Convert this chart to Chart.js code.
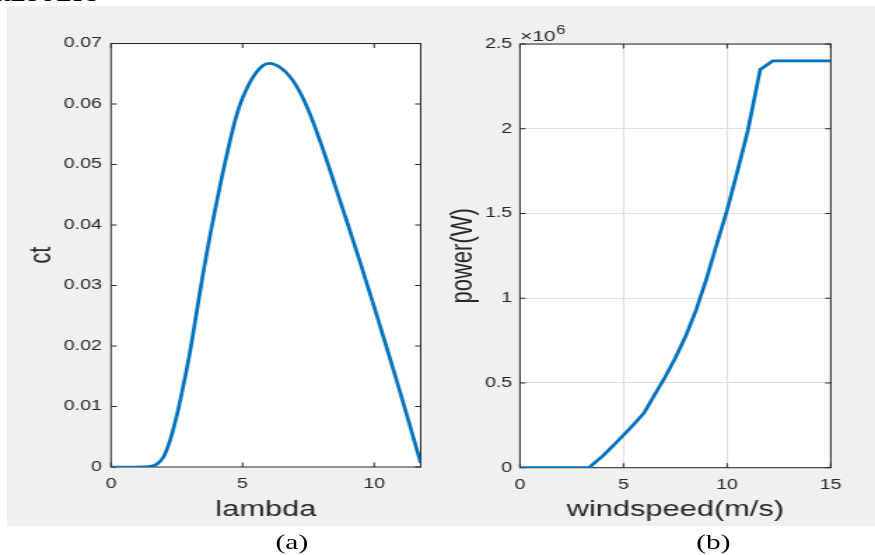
<!DOCTYPE html>
<html>
<head>
<meta charset="utf-8">
<script src="https://cdn.jsdelivr.net/npm/chart.js@4.4.1/dist/chart.umd.min.js"></script>
<style>
html,body{margin:0;padding:0;background:#fff;width:875px;height:555px;overflow:hidden;position:relative}
#head{position:absolute;left:-6px;top:-17.4px;font:bold 22px/22px "Liberation Serif","Times New Roman",serif;color:#000;white-space:nowrap;letter-spacing:1px}
#stage{position:absolute;left:0;top:0;width:625px;height:555px;transform:scaleX(1.4);transform-origin:0 0}
#bg{position:absolute;left:5px;top:6px;width:620px;height:520px;background:#f0f0f0}
.box{position:absolute;top:0;height:555px}
#boxA{left:0;width:310px}
#boxB{left:310px;width:315px}
.cap{position:absolute;top:530px;font:21px/24px "Liberation Serif","Times New Roman",serif;color:#000;transform:translateX(-50%);white-space:nowrap}
</style>
</head>
<body>
<div id="head">RESULTS</div>
<div id="stage">
  <div id="bg"></div>
  <div class="box" id="boxA"><canvas id="chartA"></canvas></div>
  <div class="box" id="boxB"><canvas id="chartB"></canvas></div>
  <div class="cap" style="left:208.5px">(a)</div>
  <div class="cap" style="left:509.5px">(b)</div>
</div>
<script>
// ---------- data (a): ct vs lambda ----------
const lambdaValues = [0, 0.5, 1.0, 1.5, 1.75, 2.0, 2.25, 2.5, 2.75, 3.0, 3.25, 3.5, 3.75, 4.0, 4.25, 4.5, 4.75, 5.0, 5.5, 6.0, 6.5, 7.0, 7.5, 8.0, 8.5, 9.0, 9.5, 10.0, 10.5, 11.0, 11.5, 11.77];
const ctValues     = [0, 0, 0, 0.0001, 0.0005, 0.0017, 0.0045, 0.0085, 0.0135, 0.019, 0.0255, 0.032, 0.038, 0.0435, 0.0487, 0.0535, 0.0578, 0.061, 0.0651, 0.0667, 0.0658, 0.0633, 0.059, 0.0532, 0.0467, 0.0401, 0.0334, 0.0265, 0.0194, 0.0122, 0.0047, 0.0007];
const lambdaTicks  = [0, 5, 10];
const ctTicks      = [0, 0.01, 0.02, 0.03, 0.04, 0.05, 0.06, 0.07];

// ---------- data (b): power vs windspeed ----------
const windValues  = [0, 3.33, 4.0, 4.5, 5.0, 5.5, 6.0, 6.5, 7.0, 7.5, 8.0, 8.5, 9.0, 9.5, 10.0, 10.5, 11.0, 11.6, 12.2, 15];
const powerValues = [0, 0, 0.07e6, 0.13e6, 0.193e6, 0.256e6, 0.325e6, 0.43e6, 0.534e6, 0.647e6, 0.777e6, 0.93e6, 1.113e6, 1.32e6, 1.52e6, 1.75e6, 1.99e6, 2.35e6, 2.4e6, 2.4e6];
const windTicks   = [0, 5, 10, 15];
const powerTicks  = [0, 0.5e6, 1.0e6, 1.5e6, 2.0e6, 2.5e6];

const FONT = '"Liberation Sans", Arial, Helvetica, sans-serif';
const AXC = '#262626';
const BLUE = '#0072BD';

function boxPlugin() {
  return {
    id: 'matlabBox',
    beforeDraw(chart) {
      const {ctx, chartArea: a} = chart;
      ctx.save();
      ctx.fillStyle = '#ffffff';
      ctx.fillRect(a.left, a.top, a.right - a.left, a.bottom - a.top);
      ctx.restore();
    },
    beforeDatasetsDraw(chart) {
      const {ctx, chartArea: a, scales: {x, y}} = chart;
      ctx.save();
      ctx.strokeStyle = AXC;
      ctx.lineWidth = 1;
      ctx.beginPath();
      x.ticks.forEach(t => {
        const px = x.getPixelForValue(t.value);
        ctx.moveTo(px, a.bottom); ctx.lineTo(px, a.bottom - 4.5);
        ctx.moveTo(px, a.top); ctx.lineTo(px, a.top + 4.5);
      });
      y.ticks.forEach(t => {
        const py = y.getPixelForValue(t.value);
        ctx.moveTo(a.left, py); ctx.lineTo(a.left + 4, py);
        ctx.moveTo(a.right, py); ctx.lineTo(a.right - 4, py);
      });
      ctx.stroke();
      ctx.strokeRect(a.left, a.top, a.right - a.left, a.bottom - a.top);
      ctx.restore();
    }
  };
}

const expPlugin = {
  id: 'exponent',
  afterDraw(chart) {
    const {ctx, chartArea: a} = chart;
    ctx.save();
    ctx.fillStyle = AXC;
    ctx.textBaseline = 'alphabetic';
    ctx.textAlign = 'left';
    ctx.font = '15px ' + FONT;
    const base = '\u00D710';
    ctx.fillText(base, a.left, 40.5);
    const w = ctx.measureText(base).width;
    ctx.font = '12px ' + FONT;
    ctx.fillText('6', a.left + w + 0.5, 33.5);
    ctx.restore();
  }
};

function makeChart(id, cfg) {
  return new Chart(document.getElementById(id), {
    type: 'line',
    data: {
      datasets: [{
        data: cfg.xs.map((v, i) => ({x: v, y: cfg.ys[i]})),
        borderColor: BLUE,
        borderWidth: 2.7,
        pointRadius: 0,
        fill: false,
        tension: cfg.smooth ? 0.4 : 0,
        cubicInterpolationMode: cfg.smooth ? 'monotone' : 'default'
      }]
    },
    options: {
      responsive: true,
      maintainAspectRatio: false,
      animation: false,
      devicePixelRatio: 1,
      layout: {padding: cfg.pad},
      plugins: {legend: {display: false}, tooltip: {enabled: false}},
      scales: {
        x: {
          type: 'linear',
          min: cfg.xmin, max: cfg.xmax,
          afterBuildTicks: s => { s.ticks = cfg.xticks.map(v => ({value: v})); },
          afterFit: s => { s.height = cfg.xh; },
          grid: {display: cfg.grid, color: '#dedede', lineWidth: 1, drawTicks: false},
          border: {display: false},
          ticks: {color: AXC, font: {family: FONT, size: 14}, padding: 9, maxRotation: 0, autoSkip: false,
                  callback: v => String(v)},
          title: {display: true, text: cfg.xlabel, color: AXC, font: {family: FONT, size: 22}, padding: 0}
        },
        y: {
          type: 'linear',
          min: cfg.ymin, max: cfg.ymax,
          afterBuildTicks: s => { s.ticks = cfg.yticks.map(v => ({value: v})); },
          afterFit: s => { s.width = cfg.yw; },
          grid: {display: cfg.grid, color: '#dedede', lineWidth: 1, drawTicks: false},
          border: {display: false},
          ticks: {color: AXC, font: {family: FONT, size: 14}, padding: cfg.ytp, autoSkip: false,
                  callback: cfg.yfmt},
          title: {display: true, text: cfg.ylabel, color: AXC, font: {family: FONT, size: 22}, padding: 0}
        }
      }
    },
    plugins: cfg.plugins
  });
}

// Chart (a)
makeChart('chartA', {
  xs: lambdaValues, ys: ctValues, smooth: true,
  xmin: 0, xmax: 11.77, ymin: 0, ymax: 0.07,
  xticks: lambdaTicks, yticks: ctTicks,
  xlabel: 'lambda', ylabel: 'ct',
  grid: false,
  yw: 62.5, xh: 55.7, ytp: 6.5,
  pad: {left: 16.8, right: 9.5, top: 43.5, bottom: 32.3},
  yfmt: v => (v === 0 ? '0' : v.toFixed(2)),
  plugins: [boxPlugin()]
});

// Chart (b)
makeChart('chartB', {
  xs: windValues, ys: powerValues, smooth: false,
  xmin: 0, xmax: 15, ymin: 0, ymax: 2.5e6,
  xticks: windTicks, yticks: powerTicks,
  xlabel: 'windspeed(m/s)', ylabel: 'power(W)',
  grid: true,
  yw: 53.2, xh: 55.0, ytp: 5.5,
  pad: {left: 8.2, right: 31.64, top: 44, bottom: 32.3},
  yfmt: v => (v === 0 ? '0' : String(Math.round(v / 1e5) / 10)),
  plugins: [boxPlugin(), expPlugin]
});
</script>
</body>
</html>
